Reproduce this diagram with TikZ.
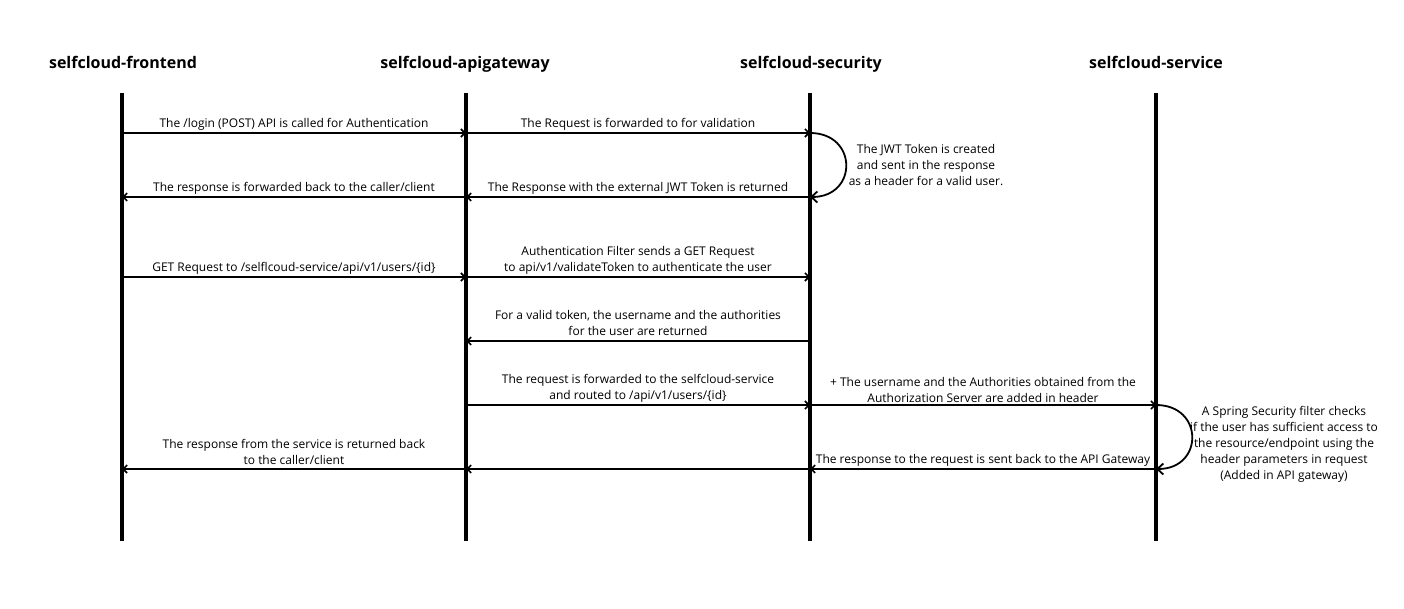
\documentclass[tikz,border=0pt]{standalone}
\usepackage{fontspec}
\setmainfont{Open Sans}
\usetikzlibrary{arrows.meta,positioning}
\tikzstyle{lifeline}=[line width=3.6pt]
\tikzstyle{head}=[font=\bfseries\fontsize{16}{18}\selectfont,anchor=base]

\begin{document}
\begin{tikzpicture}[x=1pt,y=-1pt,>={Straight Barb[length=4pt,width=8pt]},
    every node/.style={font=\fontsize{12}{16}\selectfont}]
  \tikzstyle{msg}=[->,line width=1.6pt]
  \tikzstyle{selfmsg}=[-{Straight Barb[length=6pt,width=11pt]},line width=1.8pt]
  \tikzstyle{txt}=[above=2pt,align=center,inner sep=0pt]
  \tikzstyle{note}=[align=center,inner sep=0pt]
  \useasboundingbox (0,0) rectangle (1404,609);

  \node[head] at (123,69) (fehead) {selfcloud-frontend};
  \node[head] at (465,69) (gwhead) {selfcloud-apigateway};
  \node[head] at (811,69) (sechead) {selfcloud-security};
  \node[head] at (1156,69) (svchead) {selfcloud-service};

  \coordinate (fe) at (122,93);
  \coordinate (gw) at (466,93);
  \coordinate (sec) at (810,93);
  \coordinate (svc) at (1156,93);
  \coordinate (bottom) at (0,541);

  \foreach \l in {fe,gw,sec,svc}
    \draw[lifeline] (\l) -- (\l |- bottom);

  \coordinate (r1) at (0,133);
  \coordinate (r2) at (0,197);
  \coordinate (r3) at (0,277);
  \coordinate (r4) at (0,341);
  \coordinate (r5) at (0,405);
  \coordinate (r6) at (0,469);

  \draw[msg] (fe |- r1) -- (gw |- r1)
    node[txt,midway] {The /login (POST) API is called for Authentication};
  \draw[msg] (gw |- r1) -- (sec |- r1)
    node[txt,midway] {The Request is forwarded to for validation};
  \draw[selfmsg] (sec |- r1) .. controls +(48,0) and +(48,0) .. (sec |- r2);
  \node[note] at (926,165) (jwt) {The JWT Token is created\\and sent in the response\\as a header for a valid user.};
  \draw[msg] (sec |- r2) -- (gw |- r2)
    node[txt,midway] {The Response with the external JWT Token is returned};
  \draw[msg] (gw |- r2) -- (fe |- r2)
    node[txt,midway] {The response is forwarded back to the caller/client};

  \draw[msg] (fe |- r3) -- (gw |- r3)
    node[txt,midway] {GET Request to /selflcoud-service/api/v1/users/\{id\}};
  \draw[msg] (gw |- r3) -- (sec |- r3)
    node[txt,midway] {Authentication Filter sends a GET Request\\to api/v1/validateToken to authenticate the user};
  \draw[msg] (sec |- r4) -- (gw |- r4)
    node[txt,midway,above=5pt] {For a valid token, the username and the authorities\\for the user are returned};

  \draw[msg] (gw |- r5) -- (sec |- r5)
    node[txt,midway] {The request is forwarded to the selfcloud-service\\and routed to /api/v1/users/\{id\}};
  \draw[msg] (sec |- r5) -- (svc |- r5)
    node[txt,midway] {+ The username and the Authorities obtained from the\\Authorization Server are added in header};
  \draw[selfmsg] (svc |- r5) .. controls +(48,0) and +(48,0) .. (svc |- r6);
  \node[note] at (1284,444) (filter) {A Spring Security filter checks\\if the user has sufficient access to\\the resource/endpoint using the\\header parameters in request\\(Added in API gateway)};
  \draw[msg] (svc |- r6) -- (sec |- r6)
    node[txt,midway] {The response to the request is sent back to the API Gateway};
  \draw[msg] (sec |- r6) -- (gw |- r6);
  \draw[msg] (gw |- r6) -- (fe |- r6)
    node[txt,midway,above=4pt] {The response from the service is returned back\\to the caller/client};
\end{tikzpicture}
\end{document}
